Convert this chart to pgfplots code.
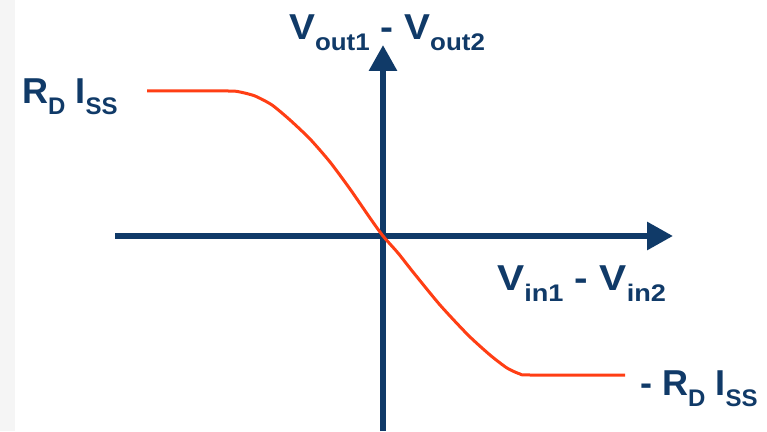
\documentclass[border=0pt]{standalone}
\usepackage{pgfplots}
\pgfplotsset{compat=1.18}
\usetikzlibrary{arrows.meta}
\usepackage{fontspec}
\setmainfont{Liberation Sans}
\definecolor{axblue}{RGB}{16,58,104}
\definecolor{curve}{RGB}{255,62,20}
\newcommand{\bigtxt}{\fontsize{36}{36}\selectfont\bfseries}
\newcommand{\sub}[1]{\raisebox{-11pt}{\fontsize{24}{24}\selectfont\bfseries #1}}
\begin{document}
\begin{tikzpicture}
\begin{axis}[
  name=main,
  scale only axis,
  width=767pt, height=431pt,
  xmin=-383, xmax=384, ymin=-195, ymax=236,
  axis lines=none,
  clip=true,
]
% faint background texture at the left edge
\fill[black!4] (axis cs:-383,-195) rectangle (axis cs:-368,236);
% axes
\addplot[axblue, line width=6pt, -{Triangle[length=26pt,width=27pt]}] coordinates {(-268,0) (290,0)};
\addplot[axblue, line width=6pt, -{Triangle[length=26pt,width=27pt]}] coordinates {(0,-195) (0,191)};
% transfer curve
\addplot[curve, line width=3pt, smooth, tension=0.4] coordinates {
(-236,145) (-155,145) (-143,144) (-128,140) (-111,131) (-93,116) (-73,97)
(-53,74) (-33,47) (-13,18) (0,0) (15,-17) (30,-36) (57,-69) (85,-99)
(107,-119) (124,-132) (137,-138) (147,-139) (242,-139)};
% labels
\node[axblue, anchor=base, inner sep=0pt, xscale=1.08] at (axis cs:4,196) {\bigtxt V\sub{out1} - V\sub{out2}};
\node[axblue, anchor=base west, inner sep=0pt] at (axis cs:-361,132) {\bigtxt R\sub{D} I\sub{SS}};
\node[axblue, anchor=base west, inner sep=0pt, xscale=1.13] at (axis cs:114,-54) {\bigtxt V\sub{in1} - V\sub{in2}};
\node[axblue, anchor=base west, inner sep=0pt] at (axis cs:257,-159) {\bigtxt - R\sub{D} I\sub{SS}};
\end{axis}
\pgfresetboundingbox
\useasboundingbox (main.south west) rectangle (main.north east);
\end{tikzpicture}
\end{document}
